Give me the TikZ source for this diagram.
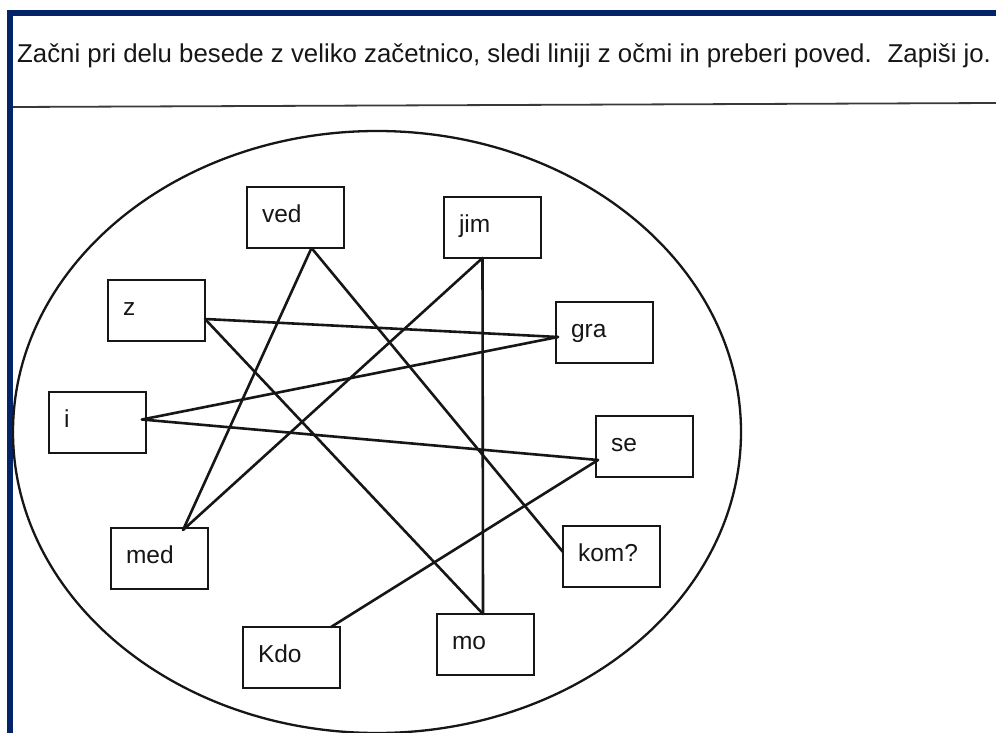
\documentclass[tikz,border=0pt]{standalone}
\usepackage{fontspec}
\setmainfont{Liberation Sans}
\definecolor{ink}{RGB}{22,22,22}
\definecolor{frameblue}{RGB}{4,36,106}
\begin{document}
\begin{tikzpicture}[x=1pt,y=-1pt,
  wordbox/.style={draw=ink, line width=2.6pt, rectangle, anchor=north west, outer sep=0pt,
    inner xsep=15pt, inner ysep=0pt, text width=67pt, align=left,
    text height=35pt, text depth=26pt, text=ink, font=\fontsize{24.5}{28}\selectfont},
  link/.style={draw=ink, line width=2.6pt, line cap=round},
  rim/.style={draw=ink, line width=2.3pt},
]
\useasboundingbox (0,0) rectangle (996,733);
\fill[white] (0,0) rectangle (996,733);

% page frame (top and left edges)
\fill[frameblue] (7,10) rectangle (996,16);
\fill[frameblue] (7,10) rectangle (13,733);

% instruction line and rule
\node[anchor=base west, inner sep=0pt, text=ink, font=\fontsize{25.8}{30}\selectfont] (title) at (17,63)
  {Začni pri delu besede z veliko začetnico, sledi liniji z očmi in preberi poved.\hspace{0.62em}Zapiši jo.};
\draw[ink!85, line width=1.8pt] (13,107) -- (996,103);

% the big oval
\draw[rim] (377,432) ellipse [x radius=364, y radius=301];

% word boxes
\node[wordbox] (ved) at (247,187) {ved};
\node[wordbox] (jim) at (444,197) {jim};
\node[wordbox] (z)   at (108,280) {z};
\node[wordbox] (gra) at (556,302) {gra};
\node[wordbox] (i)   at (49,392)  {i};
\node[wordbox] (se)  at (596,416) {se};
\node[wordbox] (kom) at (563,526) {kom?};
\node[wordbox] (med) at (111,528) {med};
\node[wordbox] (kdo) at (243,627) {Kdo};
\node[wordbox] (mo)  at (437,614) {mo};

% connection points on the boxes
\coordinate (kdoP) at ([xshift=-9pt]kdo.north east);
\coordinate (seP)  at ([xshift=2pt,yshift=-13.5pt]se.west);
\coordinate (iP)   at ([xshift=-4pt,yshift=3pt]i.east);
\coordinate (graP) at ([xshift=2pt,yshift=-4.5pt]gra.west);
\coordinate (zP)   at ([yshift=-8.5pt]z.east);
\coordinate (moP)  at ([xshift=-2.5pt]mo.north);
\coordinate (jimP) at ([xshift=-10pt]jim.south);
\coordinate (medP) at ([xshift=23.5pt,yshift=-2pt]med.north);
\coordinate (vedP) at ([xshift=16pt]ved.south);
\coordinate (komP) at ([yshift=4.5pt]kom.west);

% the reading path
\draw[link] (kdoP) -- (seP);
\draw[link] (seP) -- (iP);
\draw[link] (iP) -- (graP);
\draw[link] (graP) -- (zP);
\draw[link] (zP) -- (moP);
\draw[link] (moP) -- (jimP);
\draw[link] (jimP) -- (medP);
\draw[link] (medP) -- (vedP);
\draw[link] (vedP) -- (komP);
\end{tikzpicture}
\end{document}
